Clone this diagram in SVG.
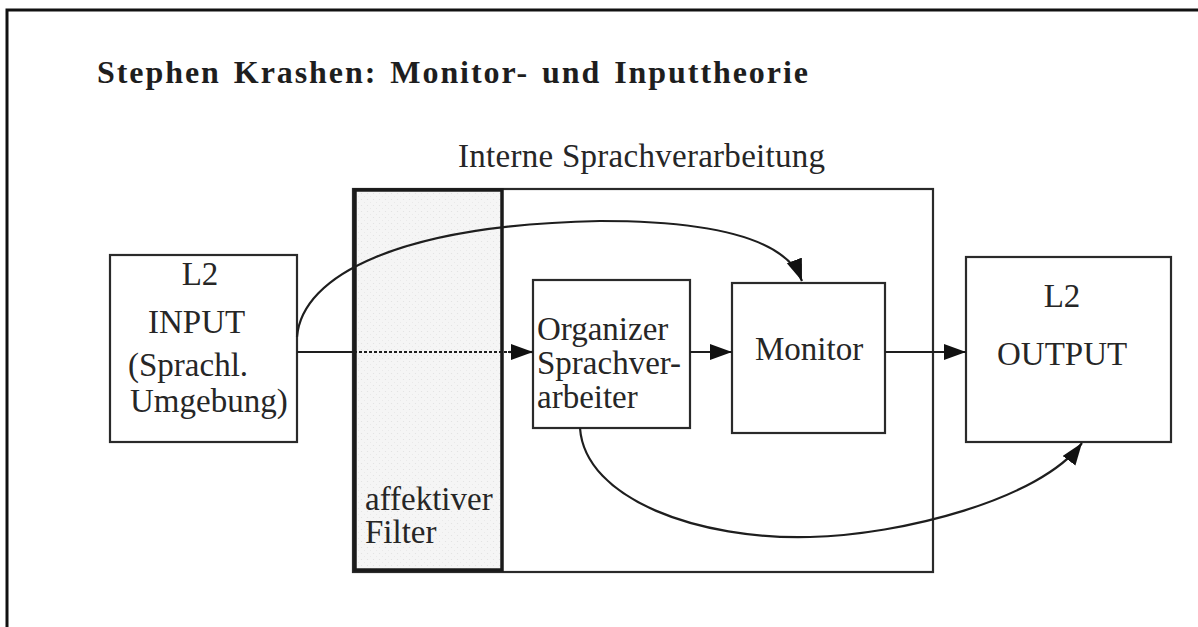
<svg xmlns="http://www.w3.org/2000/svg" width="1198" height="627" viewBox="0 0 1198 627">
<style>
.box{fill:#fff;stroke:#2a2a2a;stroke-width:2.2}
.t{font-family:"Liberation Serif","Times New Roman",serif;font-size:33px;fill:#262626}
.title{font-family:"Liberation Serif","Times New Roman",serif;font-size:32px;font-weight:bold;fill:#1e1e1e}
.ln{fill:none;stroke:#1e1e1e;stroke-width:2.2}
</style>
<defs>
<marker id="ah" markerUnits="userSpaceOnUse" markerWidth="24" markerHeight="18" refX="22" refY="8" orient="auto">
<path d="M0,0 L22,8 L0,16 z" fill="#111"/>
</marker>
<pattern id="stip" width="6" height="6" patternUnits="userSpaceOnUse">
<rect width="6" height="6" fill="#f5f5f5"/>
<circle cx="1.5" cy="1.5" r="0.6" fill="#e0e0e0"/>
<circle cx="4.5" cy="4.5" r="0.5" fill="#e6e6e6"/>
</pattern>
</defs>
<rect width="1198" height="627" fill="#fff"/>
<path d="M7,627 L7,10 L1198,10" fill="none" stroke="#111" stroke-width="3"/>
<g id="title">
<text class="title" x="97" y="83" textLength="711" lengthAdjust="spacing" word-spacing="3">Stephen Krashen: Monitor- und Inputtheorie</text>
</g>
<g id="interne">
<rect class="box" x="353" y="189" width="580" height="383"/>
<text class="t" x="458" y="167" font-size="30" textLength="367" lengthAdjust="spacing">Interne Sprachverarbeitung</text>
</g>
<g id="filter">
<rect x="355" y="190" width="147" height="380" fill="url(#stip)" stroke="#1a1a1a" stroke-width="3.5"/>
<text class="t" x="365" y="510">affektiver</text>
<text class="t" x="365" y="543">Filter</text>
</g>
<g id="input">
<rect class="box" x="110" y="255" width="187" height="187"/>
<text class="t" x="200" y="285" text-anchor="middle">L2</text>
<text class="t" x="148" y="333">INPUT</text>
<text class="t" x="128" y="376">(Sprachl.</text>
<text class="t" x="130" y="412">Umgebung)</text>
</g>
<g id="organizer">
<rect class="box" x="533" y="280" width="157" height="148"/>
<text class="t" x="537" y="340" font-size="34">Organizer</text>
<text class="t" x="537" y="374" font-size="34">Sprachver-</text>
<text class="t" x="537" y="408" font-size="34">arbeiter</text>
</g>
<g id="monitor">
<rect class="box" x="732" y="283" width="153" height="150"/>
<text class="t" x="755" y="360">Monitor</text>
</g>
<g id="output">
<rect class="box" x="966" y="257" width="205" height="185"/>
<text class="t" x="1062" y="307" text-anchor="middle">L2</text>
<text class="t" x="997" y="365">OUTPUT</text>
</g>
<g id="connectors">
<line class="ln" x1="297" y1="352" x2="354" y2="352"/>
<line class="ln" x1="354" y1="352" x2="512" y2="352" stroke-dasharray="3,2"/>
<line class="ln" x1="508" y1="352" x2="533" y2="352" marker-end="url(#ah)"/>
<line class="ln" x1="690" y1="352" x2="732" y2="352" marker-end="url(#ah)"/>
<line class="ln" x1="885" y1="352" x2="966" y2="352" marker-end="url(#ah)"/>
<path class="ln" d="M297,337 C302,275 400,225 600,221 C700,221 785,235 802,281" marker-end="url(#ah)"/>
<path class="ln" d="M580,428 C585,500 700,540 810,537 C900,535 1040,500 1082,443" marker-end="url(#ah)"/>
</g>
</svg>
